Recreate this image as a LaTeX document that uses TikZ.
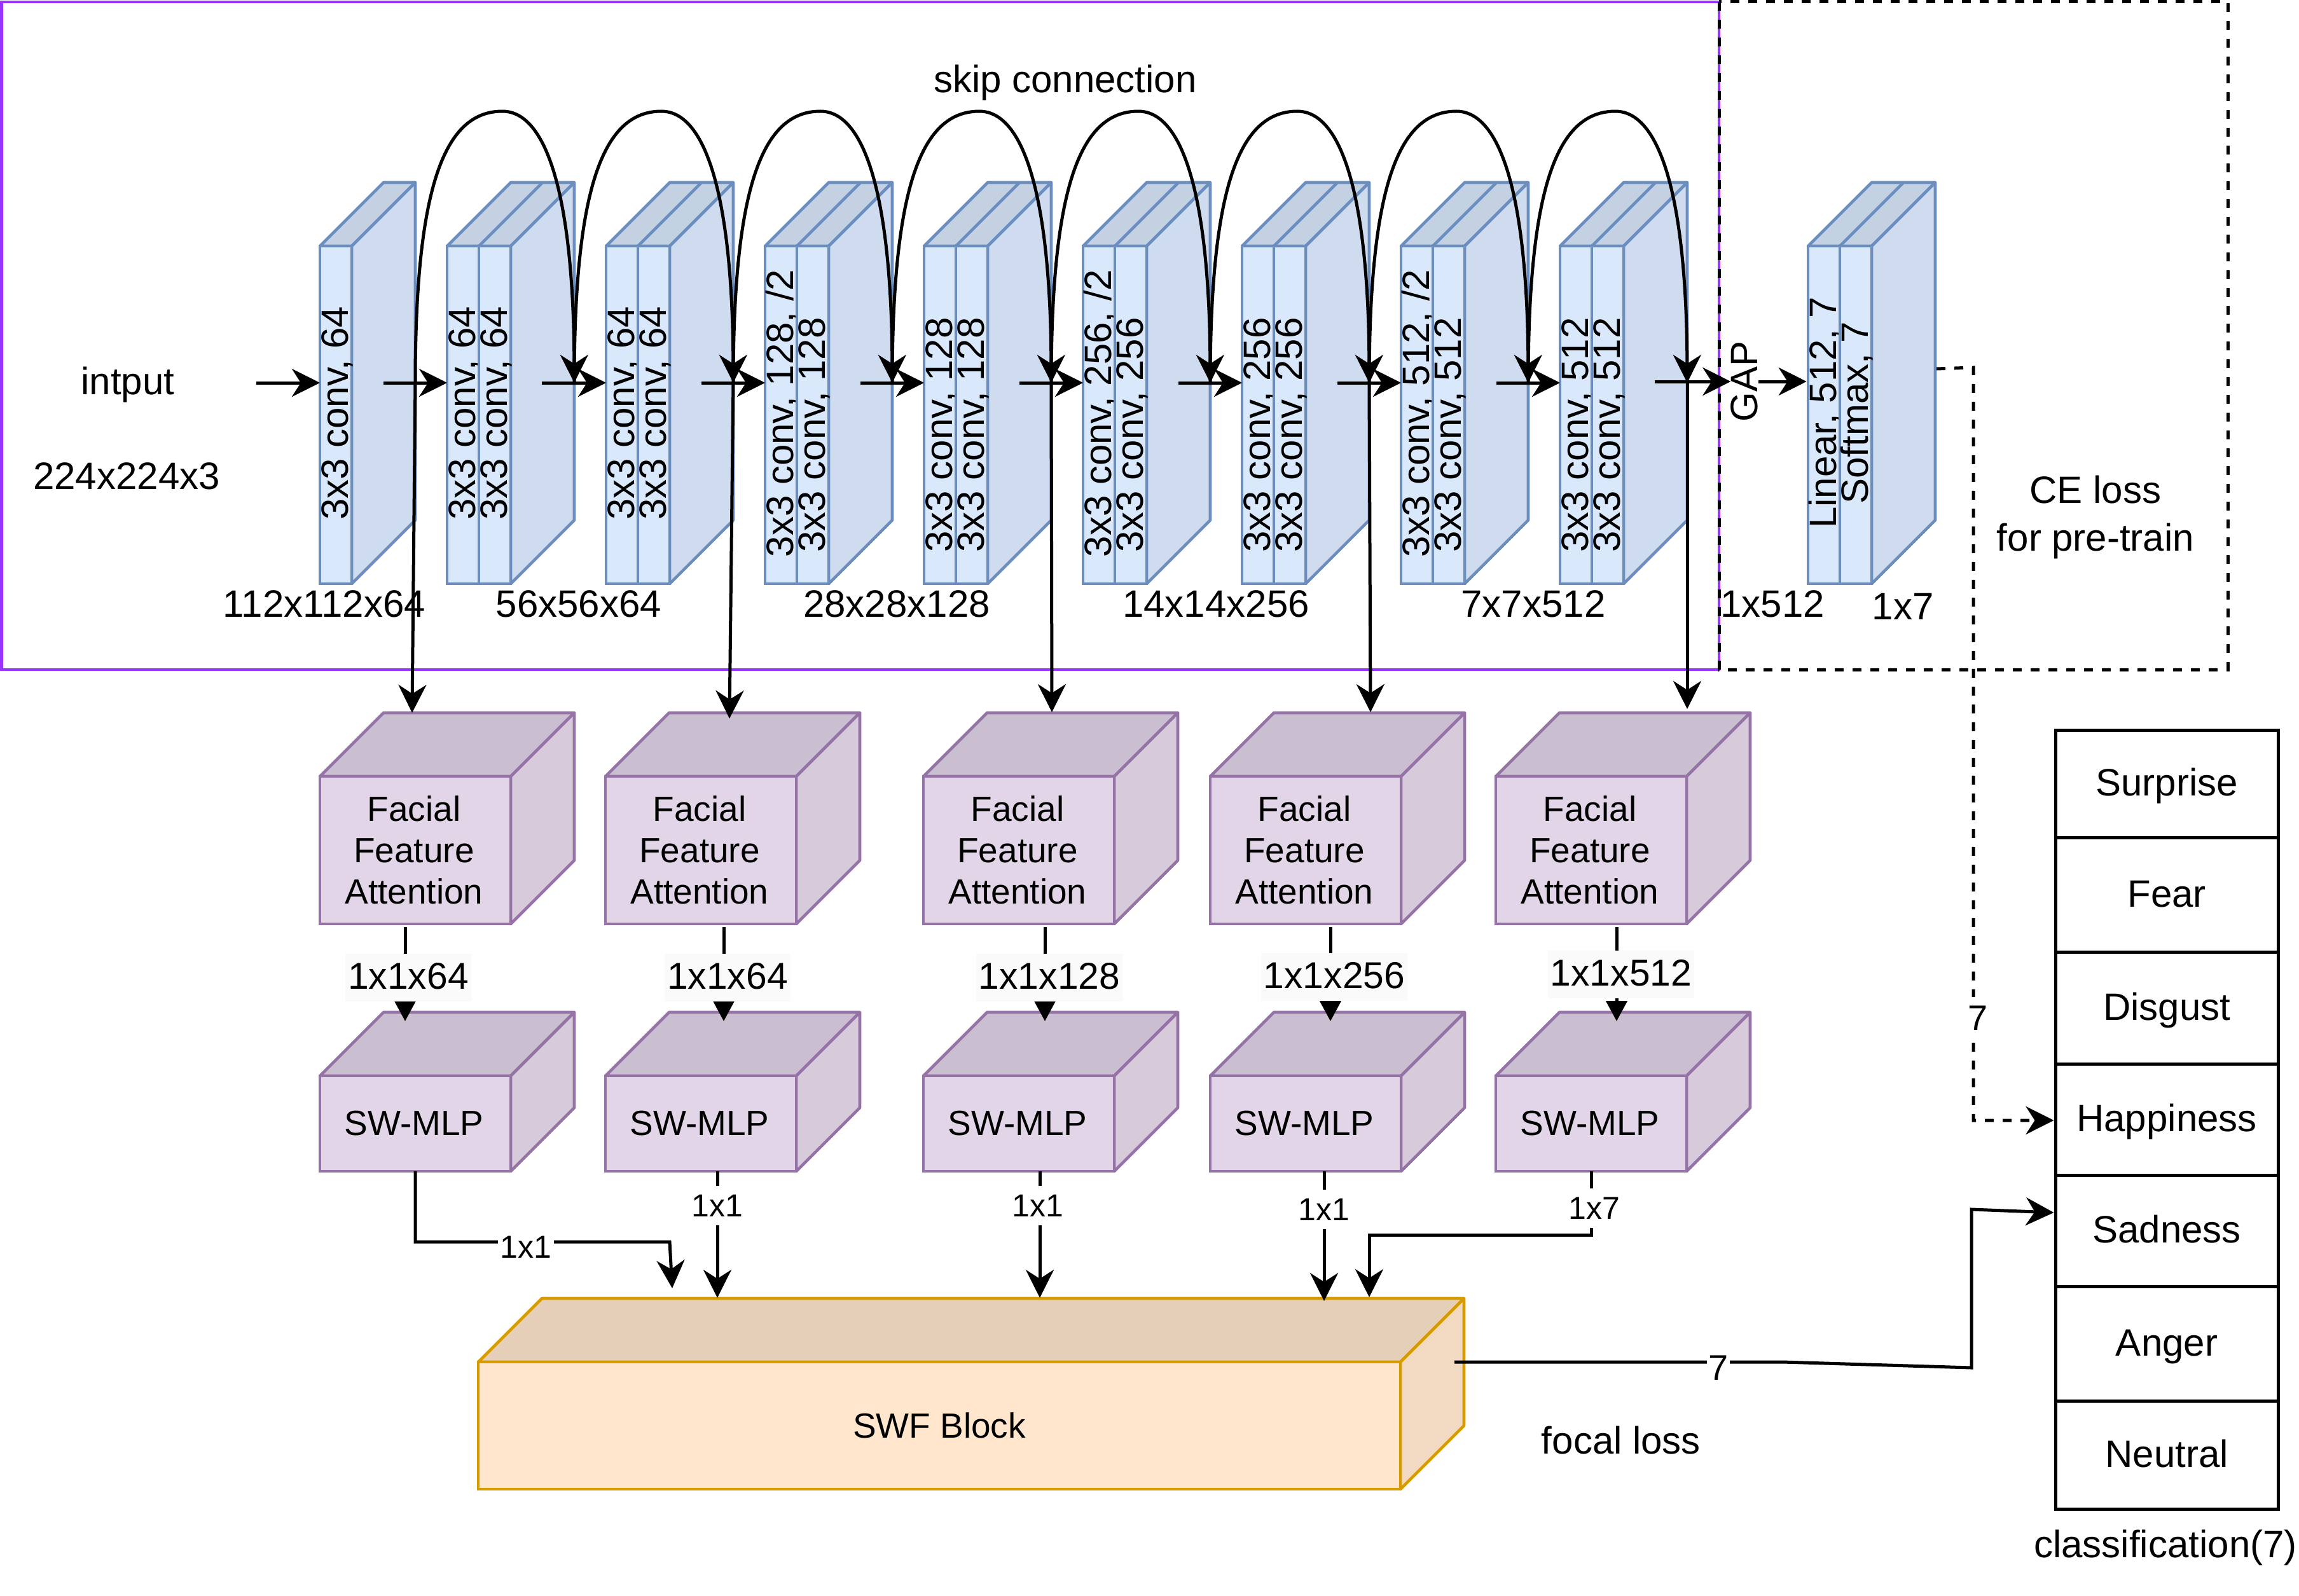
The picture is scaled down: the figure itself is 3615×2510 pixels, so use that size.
\documentclass[tikz,border=0pt]{standalone}
\usepackage{fontspec}
\setmainfont{Liberation Sans}
\usetikzlibrary{arrows.meta}
\definecolor{framepurple}{HTML}{9933FF}
\definecolor{convline}{HTML}{6C8EBF}
\definecolor{convfront}{HTML}{DAE8FC}
\definecolor{convside}{HTML}{CFDCEF}
\definecolor{convtop}{HTML}{C4D1E3}
\definecolor{attnline}{HTML}{9673A6}
\definecolor{attnfront}{HTML}{E1D5E7}
\definecolor{attnside}{HTML}{D6CADB}
\definecolor{attntop}{HTML}{CABFD0}
\definecolor{swfline}{HTML}{D79B00}
\definecolor{swffront}{HTML}{FFE6CC}
\definecolor{swfside}{HTML}{F2DAC2}
\definecolor{swftop}{HTML}{E6CFB8}
\definecolor{labelgrey}{HTML}{FAFAFA}
\tikzset{
    link/.style={line width=2.5pt,->,>={Stealth[length=22pt,width=22pt,inset=7pt]}},
    dashlink/.style={link,dash pattern=on 7pt off 7pt},
    face/.style={line width=2.3pt,line join=round},
    celltext/.style={inner sep=0pt,anchor=base,rotate=90,font=\fontsize{30}{34}\selectfont},
    outertext/.style={inner sep=0pt,font=\fontsize{30}{37}\selectfont},
    blocktext/.style={inner sep=0pt,align=center,font=\fontsize{27.5}{32.5}\selectfont},
    classtext/.style={inner sep=0pt,text height=24pt,text depth=5pt,font=\fontsize{30}{37}\selectfont},
    sizetext/.style={fill=labelgrey,inner xsep=2pt,inner ysep=7pt,text depth=2.5pt,font=\fontsize{29.4}{34}\selectfont},
    edgetext/.style={fill=white,inner xsep=2pt,inner ysep=7pt,font=\fontsize{25}{30}\selectfont},
    seventext/.style={fill=white,inner xsep=1pt,inner ysep=7pt,font=\fontsize{28}{30}\selectfont},
}
\begin{document}
\begin{tikzpicture}[x=0.5pt,y=-0.5pt]
    \useasboundingbox(0,0) rectangle (3615,2510);
    \draw[line width=2.4pt,draw=framepurple](2.5,3) rectangle (2703,1053);
    \draw[line width=2.5pt,dash pattern=on 7pt off 7pt](2703,3) rectangle (3503,1053);
    \foreach \x/\y/\w/\h/\hue in {503/387/50/531/conv,703/387/100/531/conv,953/387/100/531/conv,1203/387/100/531/conv,
        1453/387/100/531/conv,1703/387/100/531/conv,1953/387/100/531/conv,2203/387/100/531/conv,2453/387/100/531/conv,
        2843/387/100/531/conv,503/1221/300/232/attn,952/1221/300/232/attn,1452/1221/300/232/attn,1903/1221/300/232/attn,
        2352/1221/300/232/attn,503/1692/300/150/attn,952/1692/300/150/attn,1452/1692/300/150/attn,1903/1692/300/150/attn,
        2352/1692/300/150/attn,752/2142/1450/200/swf} {
        \draw[face,draw=\hue line,fill=\hue top](\x,\y) -- ++(100,-100) -- ++(\w,0) -- ++(-100,100) -- cycle;
        \draw[face,draw=\hue line,fill=\hue side](\x+\w,\y) -- ++(100,-100) -- ++(0,\h) -- ++(-100,100) -- cycle;
    }
    \foreach \x in {703,953,...,2453,2843} {
        \draw[face,draw=convline](\x+50,387) -- ++(100,-100);
    }
    \foreach \n/\x/\y/\t in {a1/503/650/{3x3 conv, 64},
        a2/703/650/{3x3 conv, 64},b2/753/650/{3x3 conv, 64},
        a3/953/650/{3x3 conv, 64},b3/1003/650/{3x3 conv, 64},
        a4/1203/650/{3x3 conv, 128, /2},b4/1253/684/{3x3 conv, 128},
        a5/1453/684/{3x3 conv, 128},b5/1503/684/{3x3 conv, 128},
        a6/1703/650/{3x3 conv, 256, /2},b6/1753/684/{3x3 conv, 256},
        a7/1953/684/{3x3 conv, 256},b7/2003/684/{3x3 conv, 256},
        a8/2203/650/{3x3 conv, 512, /2},b8/2253/684/{3x3 conv, 512},
        a9/2453/684/{3x3 conv, 512},b9/2503/684/{3x3 conv, 512},
        a10/2843/649/{Linear, 512, 7},b10/2893/649/{Softmax, 7}} {
        \node[draw=convline,fill=convfront,line width=2.3pt,minimum width=25pt,minimum height=265.5pt,inner sep=0pt](\n) at (\x+25,652.5) {};
        \node[celltext](\n text) at (\x+44,\y) {\t};
    }
    \foreach \i/\x in {1/503,2/952,3/1452,4/1903,5/2352} {
        \node[draw=attnline,fill=attnfront,line width=2.3pt,minimum width=150pt,minimum height=116pt,inner sep=0pt](f\i) at (\x+150,1337) {};
        \node[blocktext](f\i text) at (\x+148,1337) {Facial\\Feature\\Attention};
        \node[draw=attnline,fill=attnfront,line width=2.3pt,minimum width=150pt,minimum height=75pt,inner sep=0pt](s\i) at (\x+150,1767) {};
        \node[blocktext](s\i text) at (\x+148,1767) {SW-MLP};
    }
    \node[draw=swfline,fill=swffront,line width=2.3pt,minimum width=725pt,minimum height=100pt,blocktext](swf) at (1477,2242) {SWF Block};
    \foreach \i/\u/\v in {1/403/503,2/603/703,3/852/953,4/1103/1203,5/1353/1453,6/1603/1703,7/1853/1953,8/2103/2203,9/2353/2453} {
        \coordinate(ha\i) at (\u,602);
        \coordinate(hb\i) at (\v,602);
        \draw[link](ha\i) -- (hb\i);
    }
    \node[inner sep=0pt,rotate=90,font=\fontsize{30}{34}\selectfont](gap) at (2743,600) {GAP};
    \coordinate(ha10) at (2602,600);
    \draw[link](ha10) -- (gap.north);
    \draw[link](gap.south) -- (gap.south -| a10.west);
    \foreach \x in {653,903,...,2403} {
        \draw[link](\x,602) .. controls (\x,290) and (\x+47,175) .. (\x+137,175) .. controls (\x+207,175) and (\x+249,310) .. (\x+250,602);
    }
    \foreach \i/\x/\u/\v in {1/653/648/1121,2/1153/1147/1130,3/1653/1654/1120,4/2153/2155/1120,5/2653/2653/1115} {
        \coordinate(va\i) at (\x,602);
        \coordinate(vb\i) at (\u,\v);
        \draw[link](va\i) -- (vb\i);
    }
    \foreach \i/\x/\u/\y/\t in {1/637/642/1535/1x1x64,2/1138/1144/1535/1x1x64,3/1643/1650/1535/1x1x128,4/2092/2098/1534/1x1x256,5/2542/2549/1530/1x1x512} {
        \coordinate(ma\i) at (\x,1458);
        \coordinate(mb\i) at (\x,1606);
        \draw[line width=2.5pt,-{Triangle[length=16pt,width=16.5pt]}](ma\i) -- (mb\i);
        \node[sizetext](m\i) at (\u,\y+2.5) {\t};
    }
    \foreach \i/\x/\y in {2/1128/2041,3/1635/2041,4/2082/2046} {
        \coordinate(pa\i) at (\x,1842);
        \coordinate(pb\i) at (\x,\y);
        \draw[link](pa\i) -- (pb\i);
    }
    \coordinate(pa1) at (653,1842);
    \coordinate(pb1) at (1057,2026);
    \draw[link](pa1) -- (653,1953) -- (1053,1953) -- (pb1);
    \coordinate(pa5) at (2502,1842);
    \coordinate(pb5) at (2153,2040);
    \draw[link](pa5) -- (2502,1942) -- (2153,1942) -- (pb5);
    \foreach \n/\a/\b/\t in {surprise/1148/1317/Surprise,fear/1317/1497/Fear,disgust/1497/1673/Disgust,happiness/1673/1848/Happiness,
        sadness/1848/2023/Sadness,anger/2023/2203/Anger,neutral/2203/2373/Neutral} {
        \node[draw,line width=2.5pt,minimum width=175pt,minimum height=(\b-\a)*0.5pt,classtext](\n) at (3407,{(\a+\b)/2}) {\t};
    }
    \coordinate(swfout) at (2287,2142);
    \draw[link](swfout) -- (2803,2142) -- (3100,2151) -- (3100,1902) -- (sadness.west |- 3229,1907);
    \coordinate(softout) at (3045,580);
    \draw[dashlink](softout) -- (3103,578) -- (3103,1762) -- (happiness.west |- 3230,1762);
    \foreach \n/\x/\y/\t in {e1/827/1961/1x1,e2/1128/1896/1x1,e3/1632/1896/1x1,e4/2082/1902/1x1,e5/2507/1900/1x7} {
        \node[edgetext](\n) at (\x,\y) {\t};
    }
    \node[seventext](e6) at (2702,2151) {7};
    \node[seventext](e7) at (3110,1601) {7};
    \foreach \n/\x/\y/\t in {skip/1675/130/skip connection,input/201/605/intput,inputsize/199/749/224x224x3,
        d1/510/950/112x112x64,d2/910/950/56x56x64,d3/1410/950/28x28x128,d4/1912/950/14x14x256,d5/2411/950/7x7x512,
        d6/2787/950/1x512,d7/2992/954/1x7,ce/3295/770/CE loss,pretrain/3295/851/for pre-train,focal/2549/2265/focal loss,
        classes/3405/2434/classification(7)} {
        \node[outertext](\n) at (\x,\y) {\t};
    }
\end{tikzpicture}
\end{document}
